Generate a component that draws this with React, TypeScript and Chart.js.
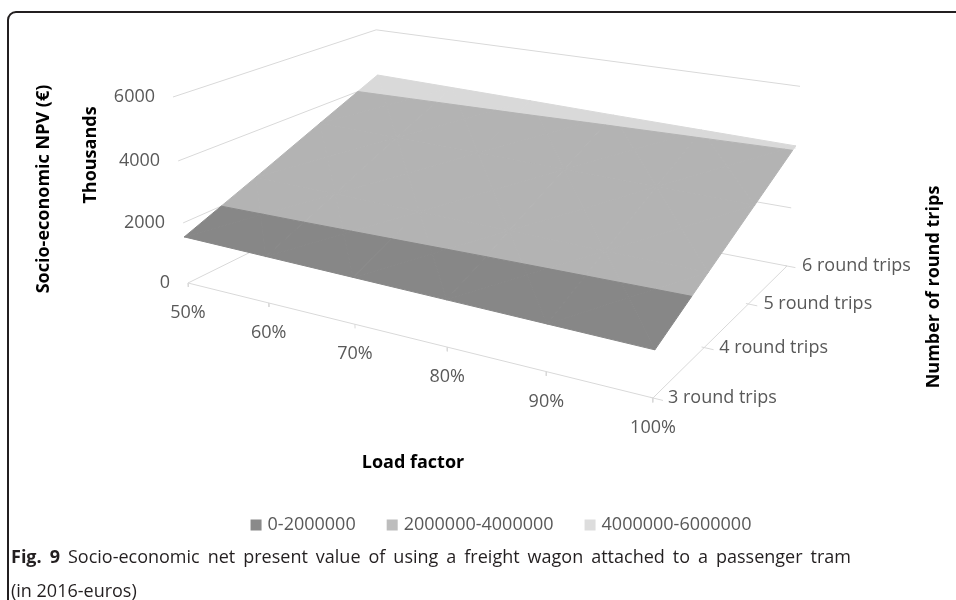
import React, { useEffect, useRef } from 'react';
import { Chart, registerables } from 'chart.js';

Chart.register(...registerables);

// ---------- data ----------
const LOAD_FACTORS = ['50%', '60%', '70%', '80%', '90%', '100%'];
const ROUND_TRIPS = ['3 round trips', '4 round trips', '5 round trips', '6 round trips'];
// Socio-economic NPV (thousands of euros), one array per number of round trips, 50% … 100%
const NPV_3_TRIPS = [1540, 1510, 1480, 1450, 1420, 1390];
const NPV_4_TRIPS = [2460, 2430, 2390, 2350, 2320, 2290];
const NPV_5_TRIPS = [3400, 3350, 3310, 3260, 3220, 3180];
const NPV_6_TRIPS = [4330, 4280, 4230, 4170, 4120, 4070];
const Z_TICKS = [0, 2000, 4000, 6000];
const BAND_LIMITS = [0, 2000, 4000, 6000];
const BAND_LABELS = ['0-2000000', '2000000-4000000', '4000000-6000000'];

// ---------- style / view ----------
const W = 956;
const H = 600;
const Z_MAX = 6000;
const BAND_FILL = ['#878787', '#b3b3b3', '#d9d9d9'];
const LEGEND_FILL = ['#8a8a8a', '#bdbdbd', '#dddddd'];
const GRID_COLOR = '#d9d9d9';
const LABEL_COLOR = '#595959';
const FONT = '"Open Sans", "DejaVu Sans", sans-serif';

// perspective camera, homogeneous form: screen = (X/Q, Y/Q)
const VIEW = {
  origin: [188, 283, 1],
  uAxis: [360.5, 51.3, -0.16],
  vAxis: [268.4, -58.2, 0.198],
  wAxis: [-22.87, -190.41, -0.0455],
};

function project(u: number, v: number, w: number) {
  const o = VIEW.origin, a = VIEW.uAxis, b = VIEW.vAxis, c = VIEW.wAxis;
  const X = o[0] + u * a[0] + v * b[0] + w * c[0];
  const Y = o[1] + u * a[1] + v * b[1] + w * c[1];
  const Q = o[2] + u * a[2] + v * b[2] + w * c[2];
  return { x: X / Q, y: Y / Q, depth: Q };
}

type P3 = [number, number, number];

function clipHalf(pts: P3[], f: (p: P3) => number): P3[] {
  const out: P3[] = [];
  for (let i = 0; i < pts.length; i++) {
    const a = pts[i];
    const b = pts[(i + 1) % pts.length];
    const fa = f(a);
    const fb = f(b);
    if (fa >= 0) out.push(a);
    if ((fa >= 0) !== (fb >= 0)) {
      const t = fa / (fa - fb);
      out.push([a[0] + t * (b[0] - a[0]), a[1] + t * (b[1] - a[1]), a[2] + t * (b[2] - a[2])]);
    }
  }
  return out;
}

function buildDatasets() {
  const grid = [NPV_3_TRIPS, NPV_4_TRIPS, NPV_5_TRIPS, NPV_6_TRIPS];
  const nu = LOAD_FACTORS.length - 1;
  const nv = ROUND_TRIPS.length - 1;
  const polys: { pts: { x: number; y: number }[]; depth: number; band: number }[] = [];
  for (let j = 0; j < nv; j++) {
    for (let i = 0; i < nu; i++) {
      const p00: P3 = [i / nu, j / nv, grid[j][i]];
      const p10: P3 = [(i + 1) / nu, j / nv, grid[j][i + 1]];
      const p11: P3 = [(i + 1) / nu, (j + 1) / nv, grid[j + 1][i + 1]];
      const p01: P3 = [i / nu, (j + 1) / nv, grid[j + 1][i]];
      const c: P3 = [(i + 0.5) / nu, (j + 0.5) / nv, (p00[2] + p10[2] + p11[2] + p01[2]) / 4];
      const tris: P3[][] = [[c, p00, p10], [c, p10, p11], [c, p11, p01], [c, p01, p00]];
      for (const tri of tris) {
        for (let b = 0; b < BAND_LIMITS.length - 1; b++) {
          const lo = BAND_LIMITS[b];
          const hi = BAND_LIMITS[b + 1];
          let poly = clipHalf(tri, (p) => p[2] - lo);
          poly = clipHalf(poly, (p) => hi - p[2]);
          if (poly.length < 3) continue;
          const proj = poly.map((p) => project(p[0], p[1], p[2] / Z_MAX));
          const depth = proj.reduce((s, p) => s + p.depth, 0) / proj.length;
          const pts = proj.map((p) => ({ x: p.x, y: p.y }));
          pts.push({ ...pts[0] });
          polys.push({ pts, depth, band: b });
        }
      }
    }
  }
  // nearest first (dataset 0 is painted last)
  polys.sort((a, b) => a.depth - b.depth);
  const datasets: any[] = polys.map((p) => ({
    data: p.pts,
    borderColor: BAND_FILL[p.band],
    backgroundColor: BAND_FILL[p.band],
    borderWidth: 1,
    fill: 'shape',
    pointRadius: 0,
    tension: 0,
  }));

  const line = (pts: { x: number; y: number }[]) => ({
    data: pts.map((p) => ({ x: p.x, y: p.y })),
    borderColor: GRID_COLOR,
    borderWidth: 1,
    fill: false,
    pointRadius: 0,
    tension: 0,
  });
  // axis lines and ticks on the floor
  datasets.push(line([project(0, 0, 0), project(1, 0, 0), project(1, 1, 0)]));
  for (let i = 0; i <= nu; i++) {
    datasets.push(line([project(i / nu, 0, 0), project(i / nu, 0, -0.022)]));
  }
  for (let j = 0; j <= nv; j++) {
    datasets.push(line([project(0.995, j / nv, 0), project(1.018, j / nv, 0)]));
  }
  // wall gridlines (left wall + back wall)
  for (const t of Z_TICKS) {
    const w = t / Z_MAX;
    datasets.push(line([project(0, 0, w), project(0, 1, w), project(1, 1, w)]));
  }
  return datasets;
}

const labelsPlugin = {
  id: 'surfaceLabels',
  afterDraw(chart: any) {
    const ctx = chart.ctx as CanvasRenderingContext2D;
    const sx = chart.scales.x;
    const sy = chart.scales.y;
    const px = (p: { x: number; y: number }) => ({ x: sx.getPixelForValue(p.x), y: sy.getPixelForValue(p.y) });
    const nu = LOAD_FACTORS.length - 1;
    const nv = ROUND_TRIPS.length - 1;
    ctx.save();
    ctx.fillStyle = LABEL_COLOR;
    ctx.font = `18px ${FONT}`;
    ctx.textBaseline = 'middle';
    ctx.textAlign = 'right';
    Z_TICKS.forEach((t) => {
      const p = px(project(0, 0, t / Z_MAX));
      ctx.fillText(String(t), p.x - 18, p.y);
    });
    ctx.textAlign = 'center';
    LOAD_FACTORS.forEach((l, i) => {
      const p = px(project(i / nu, 0, 0));
      ctx.fillText(l, p.x, p.y + 30);
    });
    ctx.textAlign = 'left';
    ROUND_TRIPS.forEach((l, j) => {
      const p = px(project(1, j / nv, 0));
      ctx.fillText(l, p.x + 15, p.y);
    });

    // axis titles
    ctx.fillStyle = '#000000';
    ctx.font = `bold 18px ${FONT}`;
    ctx.textAlign = 'center';
    const rot = (text: string, x: number, y: number) => {
      ctx.save();
      ctx.translate(x, y);
      ctx.rotate(-Math.PI / 2);
      ctx.fillText(text, 0, 0);
      ctx.restore();
    };
    rot('Socio-economic NPV (€)', 44, 189);
    rot('Thousands', 91, 155);
    rot('Number of round trips', 934, 287);
    ctx.fillText('Load factor', 413, 463);

    // legend
    ctx.font = `18px ${FONT}`;
    const box = 11;
    const gap = 6;
    const itemGap = 31;
    const widths = BAND_LABELS.map((l) => ctx.measureText(l).width);
    const total = widths.reduce((s, w) => s + w + box + gap, 0) + itemGap * (BAND_LABELS.length - 1);
    let x = 501 - total / 2;
    const y = 525;
    ctx.textAlign = 'left';
    BAND_LABELS.forEach((l, i) => {
      ctx.fillStyle = LEGEND_FILL[i];
      ctx.fillRect(x, y - box / 2, box, box);
      ctx.fillStyle = LABEL_COLOR;
      ctx.fillText(l, x + box + gap, y);
      x += box + gap + widths[i] + itemGap;
    });
    ctx.restore();
  },
};

function SurfaceChart() {
  const ref = useRef<HTMLCanvasElement | null>(null);
  useEffect(() => {
    if (!ref.current) return;
    const chart = new Chart(ref.current, {
      type: 'line',
      data: { datasets: buildDatasets() },
      options: {
        animation: false,
        responsive: false,
        devicePixelRatio: 1,
        events: [],
        layout: { padding: 0 },
        plugins: { legend: { display: false }, tooltip: { enabled: false }, title: { display: false } },
        scales: {
          x: { type: 'linear', min: 0, max: W, display: false },
          y: { type: 'linear', min: 0, max: H, reverse: true, display: false },
        },
      },
      plugins: [labelsPlugin],
    } as any);
    return () => chart.destroy();
  }, []);
  return <canvas ref={ref} width={W} height={H} style={{ position: 'absolute', left: 0, top: 0, display: 'block' }} />;
}

export default function App() {
  return (
    <div style={{ position: 'absolute', left: 0, top: 0, width: W, height: H, overflow: 'hidden', background: '#fff' }}>
      <div
        style={{
          position: 'absolute', left: 7, top: 11, width: 1000, height: 700,
          border: '2px solid #231f20', borderRadius: 9, boxSizing: 'border-box',
        }}
      />
      <SurfaceChart />
      <div
        style={{
          position: 'absolute', left: 11, top: 545, width: 840, fontFamily: FONT, fontSize: 18, lineHeight: '22px',
          color: '#231f20', whiteSpace: 'nowrap', textAlign: 'justify', textAlignLast: 'justify',
        }}
      >
        <span style={{ fontWeight: 'bold' }}>Fig. 9</span> Socio-economic net present value of using a freight wagon attached to a passenger tram
      </div>
      <div
        style={{
          position: 'absolute', left: 11, top: 579, fontFamily: FONT, fontSize: 18, lineHeight: '22px',
          color: '#231f20', whiteSpace: 'nowrap',
        }}
      >
        (in 2016-euros)
      </div>
    </div>
  );
}
